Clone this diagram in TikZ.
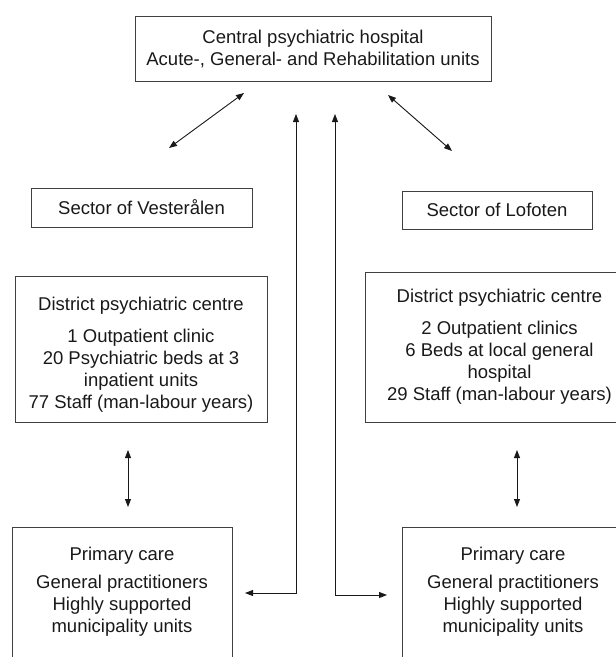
\documentclass[tikz,border=0pt]{standalone}
\usepackage{fontspec}
\setmainfont{Liberation Sans}
\usetikzlibrary{arrows.meta}
\tikzset{
  box/.style={draw=black!75, line width=0.9pt, inner sep=0pt, align=center, text=black!90},
  txt/.style={inner sep=0pt, align=center, text=black!90},
  link/.style={draw=black!90, line width=0.9pt, {Triangle[length=8pt,width=6pt]}-{Triangle[length=8pt,width=6pt]}},
}
\begin{document}
\begin{tikzpicture}[x=1pt,y=-1pt,font=\fontsize{18.5}{22}\selectfont]
\path[use as bounding box, clip] (0,0) rectangle (616,657);
% boxes
\node[box, minimum width=356pt, minimum height=65pt] (hosp) at (313,48.5) {Central psychiatric hospital\\Acute-, General- and Rehabilitation units};
\node[box, minimum width=221pt, minimum height=39pt] (vest) at (141.5,207.5) {Sector of Vesterålen};
\node[box, minimum width=190pt, minimum height=38pt] (lofo) at (497,210) {Sector of Lofoten};
\node[box, minimum width=252pt, minimum height=146pt] (dpcV) at (141,349) {\rule{0pt}{25pt}District psychiatric centre\\[10pt]1 Outpatient clinic\\20 Psychiatric beds at 3\\inpatient units\\77 Staff (man-labour years)};
\node[box, minimum width=269pt, minimum height=150pt] (dpcL) at (499.5,347) {District psychiatric centre\\[10pt]2 Outpatient clinics\\6 Beds at local general\\hospital\\29 Staff (man-labour years)};
\node[box, minimum width=220pt, minimum height=150pt, anchor=north] (prV) at (122,527) {};
\node[txt, anchor=north] (prVt) at ([yshift=-20pt]prV.north) {Primary care\\[6pt]General practitioners\\Highly supported\\municipality units};
\node[box, minimum width=222pt, minimum height=150pt, anchor=north] (prL) at (513,527) {};
\node[txt, anchor=north] (prLt) at ([yshift=-20pt]prL.north) {Primary care\\[6pt]General practitioners\\Highly supported\\municipality units};
% arrow ends
\coordinate (hospV) at (244,93);
\coordinate (vestA) at (169,148);
\coordinate (hospL) at (388,95);
\coordinate (lofoA) at (452,151);
\coordinate (upV) at (296,114);
\coordinate (cornV) at (296,593);
\coordinate (prVin) at (245,593);
\coordinate (upL) at (335,114);
\coordinate (cornL) at (335,595);
\coordinate (prLin) at (387,595);
\coordinate (dpcVa) at (128,450);
\coordinate (prVa) at (128,507);
\coordinate (dpcLa) at (517,450);
\coordinate (prLa) at (517,507);
% arrows
\draw[link] (vestA) -- (hospV);
\draw[link] (hospL) -- (lofoA);
\draw[link] (upV) -- (cornV) -- (prVin);
\draw[link] (upL) -- (cornL) -- (prLin);
\draw[link] (dpcVa) -- (prVa);
\draw[link] (dpcLa) -- (prLa);
\end{tikzpicture}
\end{document}
